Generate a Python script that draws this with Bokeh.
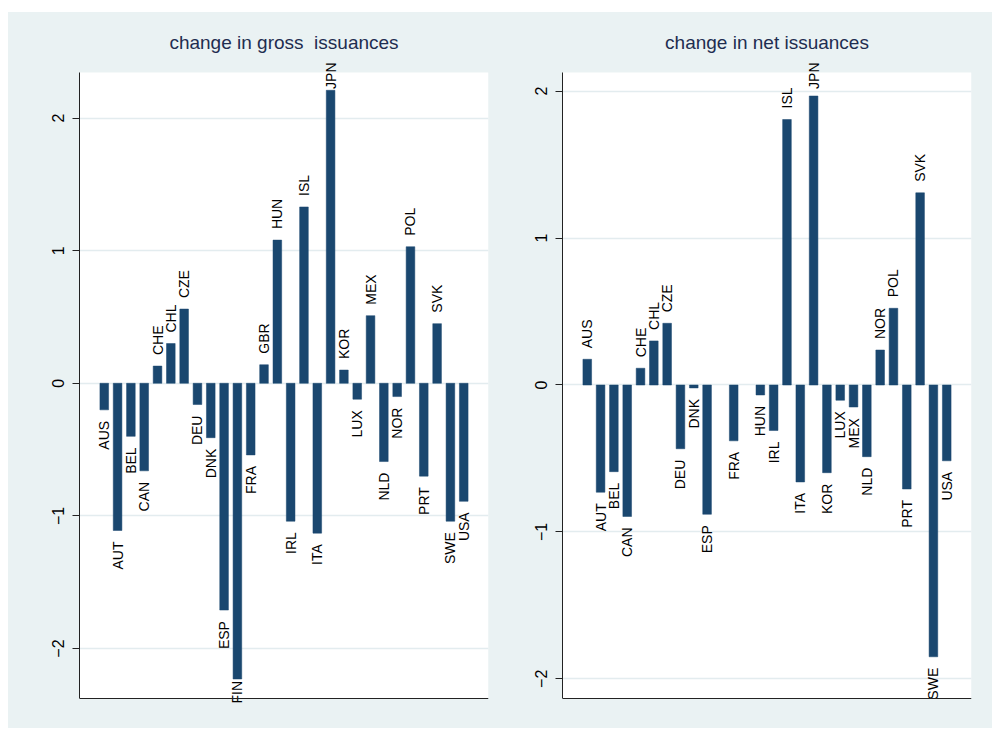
import math
from bokeh.plotting import figure
from bokeh.models import ColumnDataSource, LabelSet, FixedTicker, Range1d, BoxAnnotation, Span
from bokeh.core.properties import value
from bokeh.layouts import row
from bokeh.embed import file_html
from bokeh.resources import INLINE

# ---- data ----
countries = ["AUS", "AUT", "BEL", "CAN", "CHE", "CHL", "CZE", "DEU", "DNK", "ESP",
             "FIN", "FRA", "GBR", "HUN", "IRL", "ISL", "ITA", "JPN", "KOR", "LUX",
             "MEX", "NLD", "NOR", "POL", "PRT", "SVK", "SWE", "USA"]
gross_values = [-0.20, -1.11, -0.40, -0.66, 0.13, 0.30, 0.56, -0.16, -0.41, -1.71,
                -2.23, -0.54, 0.14, 1.08, -1.04, 1.33, -1.13, 2.21, 0.10, -0.12,
                0.51, -0.59, -0.10, 1.03, -0.70, 0.45, -1.04, -0.89]
net_countries = ["AUS", "AUT", "BEL", "CAN", "CHE", "CHL", "CZE", "DEU", "DNK", "ESP",
                 "FRA", "HUN", "IRL", "ISL", "ITA", "JPN", "KOR", "LUX", "MEX", "NLD",
                 "NOR", "POL", "PRT", "SVK", "SWE", "USA"]
net_values = [0.175, -0.73, -0.59, -0.895, 0.114, 0.30, 0.42, -0.434, -0.02, -0.88,
              -0.38, -0.068, -0.31, 1.807, -0.66, 1.967, -0.597, -0.104, -0.15, -0.488,
              0.238, 0.522, -0.708, 1.308, -1.85, -0.516]
y_ticks = [-2, -1, 0, 1, 2]
y_tick_labels = ["\u22122", "\u22121", "0", "1", "2"]
titles = ["change in gross \u00a0issuances", "change in net issuances"]

# ---- style ----
BG = "#EAF2F3"
BAR = "#1A476F"
FONT = "Liberation Sans"
LABEL_PX = 14
FRAME_W = 409
PLOT_H = 626          # height of the white plot region
EXT_TOP = 12          # frame extends above plot region (room for labels)
EXT_BOT = 7           # frame extends below plot region
FIG_H = 716
BORDER_TOP = 48
CHAR_W = {"A": .667, "B": .667, "C": .722, "D": .722, "E": .667, "F": .611, "G": .778,
          "H": .722, "I": .278, "J": .5, "K": .667, "L": .556, "M": .833, "N": .722,
          "O": .778, "P": .667, "Q": .778, "R": .722, "S": .667, "T": .611, "U": .722,
          "V": .667, "W": .944, "X": .667, "Y": .667, "Z": .611}


def make_panel(title, cats, vals, y_lo, y_hi, b_left, b_right):
    ppu = PLOT_H / (y_hi - y_lo)
    frame_h = PLOT_H + EXT_TOP + EXT_BOT
    p = figure(width=b_left + FRAME_W + b_right, height=FIG_H,
               x_range=Range1d(-1.86, len(countries) - 1 + 1.86),
               y_range=Range1d(y_lo - EXT_BOT / ppu, y_hi + EXT_TOP / ppu),
               output_backend="svg", toolbar_location=None,
               min_border_left=b_left, min_border_right=b_right,
               min_border_top=BORDER_TOP, min_border_bottom=FIG_H - BORDER_TOP - frame_h,
               background_fill_color=BG, border_fill_color=BG,
               outline_line_color=None)

    # white plot region
    box = BoxAnnotation(bottom=y_lo, top=y_hi, fill_color="white", fill_alpha=1.0,
                        line_color=None, level="underlay")
    p.center = [box] + list(p.center)

    xs = [countries.index(c) for c in cats]
    src = ColumnDataSource(dict(x=xs, top=vals, name=cats))
    p.vbar(x="x", top="top", bottom=0, width=0.65, source=src,
           fill_color=BAR, line_color=BAR, line_width=0.5)

    gap = 11 / ppu
    top_lim = y_hi + 10 / ppu
    bot_lim = y_lo - 5 / ppu
    pos = dict(x=[], y=[], name=[])
    neg = dict(x=[], y=[], name=[])
    for x, v, c in zip(xs, vals, cats):
        ld = sum(CHAR_W.get(ch, .667) for ch in c) * LABEL_PX / ppu
        if v >= 0:
            s = v + gap
            if s + ld > top_lim:
                s = top_lim - ld
            pos["x"].append(x); pos["y"].append(s); pos["name"].append(c)
        else:
            s = v - gap
            if s - ld < bot_lim:
                s = bot_lim + ld
            neg["x"].append(x); neg["y"].append(s); neg["name"].append(c)
    for d, align in ((pos, "left"), (neg, "right")):
        p.add_layout(LabelSet(x="x", y="y", text="name", source=ColumnDataSource(d),
                              angle=math.pi / 2, text_align=align, text_baseline="middle",
                              text_font=value(FONT), text_font_size=f"{LABEL_PX}px",
                              text_color="black"))

    p.title.text = title
    p.title.align = "center"
    p.title.text_font = FONT
    p.title.text_font_size = "19px"
    p.title.text_font_style = "normal"
    p.title.text_color = "#1E2D50"
    p.title.standoff = 16

    yax = p.yaxis[0]
    yax.bounds = (y_lo, y_hi)
    yax.ticker = FixedTicker(ticks=y_ticks)
    yax.major_label_overrides = {t: l for t, l in zip(y_ticks, y_tick_labels)}
    yax.major_label_orientation = "vertical"
    yax.major_label_text_font = FONT
    yax.major_label_text_font_size = "16px"
    yax.major_label_text_color = "black"
    yax.major_label_standoff = 8
    yax.major_tick_out = 7
    yax.major_tick_in = 0
    yax.minor_tick_line_color = None
    yax.axis_line_color = "#222222"
    yax.major_tick_line_color = "#222222"

    p.xaxis.visible = False
    p.add_layout(Span(location=y_lo, dimension="width", line_color="#222222", line_width=1))

    p.xgrid.visible = False
    p.ygrid.ticker = FixedTicker(ticks=y_ticks)
    p.ygrid.grid_line_color = "#E3ECEF"
    p.ygrid.grid_line_width = 1.5
    return p


p1 = make_panel(titles[0], countries, gross_values, -2.377, 2.344, 71, 12)
p2 = make_panel(titles[1], net_countries, net_values, -2.134, 2.127, 62, 21)

layout = row(p1, p2, margin=(12, 0, 0, 8), spacing=0,
             styles={"background-color": BG})
open("out.html", "w").write(file_html(layout, INLINE))
